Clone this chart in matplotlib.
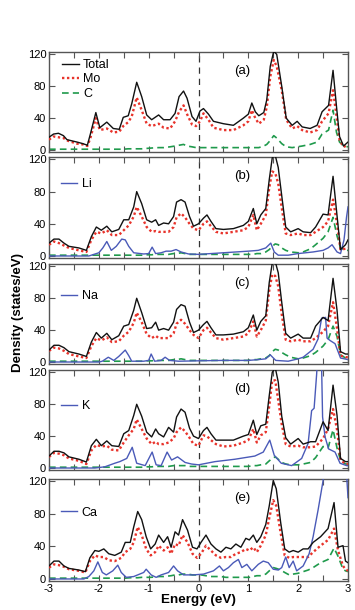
import matplotlib
matplotlib.use("Agg")
import matplotlib.pyplot as plt
from matplotlib.ticker import MultipleLocator, FixedLocator

plt.rcParams['font.family'] = ['Liberation Sans', 'DejaVu Sans']

# ---------------- data ----------------
# panel (a)
E_a = [-3.0, -2.91, -2.81, -2.71, -2.64, -2.44, -2.32, -2.23, -2.17, -2.06, -1.98, -1.84, -1.71, -1.59, -1.51,
       -1.41, -1.34, -1.24, -1.14, -1.04, -0.94, -0.80, -0.70, -0.57, -0.47, -0.39, -0.30, -0.23, -0.13, -0.05,
       0.03, 0.10, 0.20, 0.30, 0.50, 0.70, 0.90, 1.00, 1.07, 1.14, 1.21, 1.31, 1.37, 1.44, 1.51, 1.57, 1.67,
       1.76, 1.88, 1.98, 2.08, 2.24, 2.38, 2.48, 2.61, 2.70, 2.77, 2.83, 2.91, 3.0]
tot_a = [16, 20, 21, 18, 13, 10, 8, 6, 20, 47, 28, 35, 27, 26, 41, 43, 58, 85, 67, 44,
         38, 44, 38, 38, 46, 67, 74, 65, 42, 36, 49, 52, 45, 36, 33, 31, 40, 45, 59, 48,
         43, 47, 63, 105, 124, 120, 80, 40, 31, 36, 29, 27, 31, 48, 56, 100, 54, 17, 5, 10]
mo_a = [13, 17, 16, 15, 12, 8, 7, 5, 15, 40, 25, 27, 22, 23, 30, 35, 42, 66, 50, 33,
        30, 33, 28, 27, 36, 48, 56, 45, 32, 30, 36, 46, 38, 28, 25, 25, 31, 36, 50, 40,
        33, 38, 54, 92, 113, 105, 75, 38, 27, 30, 25, 22, 25, 36, 46, 75, 42, 13, 4, 6]
c_a = [1, 1, 1, 1, 1, 1, 1, 1, 1, 1, 1, 1, 1, 1, 1, 1.5, 1.5, 1.5, 1.5, 2,
       2.5, 3, 3, 4, 5, 6, 7, 5, 4, 3, 3, 3, 3, 3, 3, 3, 3, 3, 3, 3,
       3, 5, 7, 12, 18, 15, 8, 4, 3, 4, 5, 7, 10, 20, 25, 50, 22, 10, 5, 4]

# panels (b), (c), (d) share one energy grid
E_bcd = [-3.0, -2.9, -2.8, -2.7, -2.6, -2.4, -2.25, -2.15, -2.05, -1.95, -1.84, -1.74, -1.6, -1.5, -1.4,
         -1.3, -1.24, -1.14, -1.04, -0.94, -0.86, -0.8, -0.7, -0.6, -0.5, -0.44, -0.35, -0.27, -0.18, -0.1,
         0.0, 0.1, 0.17, 0.25, 0.35, 0.5, 0.7, 0.9, 1.0, 1.1, 1.17, 1.25, 1.35, 1.42, 1.48, 1.54, 1.6, 1.67,
         1.75, 1.85, 2.0, 2.1, 2.25, 2.35, 2.5, 2.6, 2.7, 2.78, 2.85, 2.95, 3.0]
tot_b = [16, 21, 21, 16, 12, 10, 7, 24, 36, 32, 37, 30, 33, 45, 45, 61, 80, 65, 45, 42,
         45, 38, 41, 40, 49, 67, 70, 67, 49, 37, 40, 47, 51, 43, 34, 33, 34, 38, 43, 59,
         40, 51, 59, 95, 122, 125, 110, 75, 36, 30, 34, 30, 29, 36, 52, 51, 99, 50, 8, 14, 20]
mo_b = [14, 18, 16, 13, 10, 7, 5, 20, 30, 28, 32, 26, 26, 32, 38, 49, 61, 49, 36, 30,
        31, 30, 30, 30, 36, 48, 53, 48, 40, 34, 32, 40, 43, 37, 30, 28, 30, 32, 36, 51,
        32, 40, 51, 85, 105, 103, 90, 60, 28, 26, 28, 26, 26, 30, 36, 43, 70, 40, 8, 9, 10]
c_b = [1, 1, 1, 1, 1, 1, 1, 1, 1, 1, 1, 1, 1, 1, 1, 1, 1, 1, 1.5, 1.5,
       2, 2, 2, 2, 3, 3, 4, 3, 2, 2, 2, 2, 2, 2, 2, 2, 2, 2, 2, 2,
       3, 3, 5, 8, 12, 15, 14, 10, 7, 5, 4, 5, 9, 14, 22, 30, 48, 25, 10, 7, 7]
E_li = [-3.0, -2.2, -2.1, -2.0, -1.92, -1.84, -1.75, -1.65, -1.54, -1.47, -1.4, -1.3, -1.1, -1.0, -0.93,
        -0.86, -0.75, -0.65, -0.55, -0.45, -0.35, -0.2, 0.0, 0.5, 1.0, 1.2, 1.35, 1.45, 1.52, 1.6, 1.8,
        2.0, 2.3, 2.5, 2.6, 2.68, 2.78, 2.85, 2.92, 2.97, 3.0]
li = [0, 0, 2, 4, 10, 18, 7, 12, 21, 20, 12, 4, 2.5, 3, 11, 3, 4, 6, 6, 8, 5, 2.5, 2, 4, 6,
      7, 10, 16, 5, 1, 1, 3, 5, 7, 10, 14, 5, 3, 20, 48, 61]

tot_c = [15, 21, 21, 18, 13, 10, 7, 25, 37, 30, 36, 28, 33, 45, 47, 65, 80, 62, 42, 43,
         50, 40, 42, 40, 50, 66, 72, 70, 50, 37, 40, 47, 51, 43, 34, 34, 35, 38, 43, 59,
         40, 51, 58, 100, 124, 126, 112, 75, 36, 30, 35, 30, 30, 45, 56, 52, 105, 65, 13, 10, 10]
mo_c = [14, 18, 17, 14, 10, 7, 5, 20, 30, 27, 31, 25, 26, 33, 38, 49, 62, 50, 35, 30,
        33, 30, 30, 30, 36, 48, 53, 48, 40, 34, 30, 40, 43, 37, 30, 28, 30, 32, 36, 51,
        32, 40, 52, 90, 110, 108, 95, 60, 28, 26, 28, 26, 26, 30, 38, 45, 75, 42, 8, 6, 6]
c_c = [1, 1, 1, 1, 1, 1, 1, 1, 1, 1, 1, 1, 1, 1, 1, 1, 1, 1, 1.5, 1.5,
       2, 2, 2, 2, 3, 3, 4, 3, 2, 2, 2, 2, 2, 2, 2, 2, 2, 2, 2, 3,
       3, 4, 5, 8, 13, 16, 15, 12, 9, 6, 4, 5, 8, 12, 20, 28, 45, 32, 9, 5, 4]
E_na = [-3.0, -2.0, -1.93, -1.81, -1.7, -1.6, -1.47, -1.4, -1.34, -1.1, -1.0, -0.95, -0.88, -0.75, -0.67,
        -0.58, -0.4, 0.0, 0.5, 1.0, 1.2, 1.35, 1.44, 1.55, 1.8, 2.0, 2.1, 2.3, 2.4, 2.47, 2.55, 2.58,
        2.64, 2.74, 2.85, 3.0]
na = [0, 0, 1, 6, 2, 7, 15, 8, 1, 1, 2, 10, 1, 2, 6, 2, 1, 1.5, 2, 2, 3, 4, 9, 2, 1,
      4, 6, 16, 29, 55, 56, 30, 27, 23, 5, 3]

tot_d = [15, 21, 21, 19, 14, 11, 7.5, 28, 36, 28, 34, 28, 27, 43, 47, 66, 80, 65, 45, 39,
         49, 43, 39, 51, 45, 64, 74, 70, 50, 40, 37, 47, 51, 43, 35, 35, 35, 40, 42, 60,
         42, 53, 55, 91, 120, 126, 108, 65, 38, 30, 37, 30, 33, 33, 58, 47, 104, 66, 12, 8, 8]
mo_d = [14, 19, 18, 16, 12, 9, 5, 22, 29, 27, 28, 23, 22, 32, 41, 49, 61, 49, 37, 30,
        33, 30, 30, 32, 37, 45, 51, 46, 38, 30, 28, 41, 40, 35, 30, 27, 28, 32, 35, 49,
        32, 41, 45, 78, 110, 110, 85, 55, 30, 27, 28, 26, 26, 27, 37, 49, 74, 48, 10, 5, 5]
c_d = [1, 1, 1, 1, 1, 1, 1, 1, 1, 1, 1, 1, 1, 1, 1, 1, 1, 1, 1.5, 1.5,
       2, 2, 2, 2, 3, 3, 3, 3, 2, 2, 2, 2, 2, 2, 2, 2, 2, 2, 2, 3,
       3, 4, 5, 9, 12, 14, 11, 7, 5, 4, 4, 5, 7, 13, 27, 25, 48, 25, 10, 5, 5]
E_k = [-3.0, -2.08, -1.88, -1.68, -1.58, -1.44, -1.33, -1.24, -1.07, -0.93, -0.85, -0.75, -0.63, -0.54,
       -0.42, -0.27, -0.14, 0.0, 0.33, 0.73, 1.13, 1.30, 1.43, 1.52, 1.66, 1.87, 2.07, 2.20, 2.27, 2.32,
       2.37, 2.41, 2.46, 2.49, 2.54, 2.61, 2.74, 2.84, 2.97, 3.0]
k = [0, 0, 1.5, 6, 8, 12, 26, 6, 3, 20, 4, 3, 20, 10, 14, 7, 5, 4, 8, 11,
     15, 20, 35, 16, 6, 3, 12, 31, 72, 75, 117, 160, 160, 64, 39, 24, 20, 6, 3, 3]

# panel (e)
E_e = [-3.0, -2.9, -2.8, -2.7, -2.6, -2.4, -2.27, -2.18, -2.08, -2.0, -1.9, -1.8, -1.68, -1.55, -1.47,
       -1.37, -1.3, -1.22, -1.14, -1.05, -0.96, -0.87, -0.8, -0.7, -0.62, -0.55, -0.47, -0.4, -0.32, -0.22,
       -0.12, -0.03, 0.05, 0.15, 0.25, 0.35, 0.45, 0.55, 0.65, 0.75, 0.85, 0.95, 1.02, 1.1, 1.17, 1.25,
       1.35, 1.42, 1.5, 1.56, 1.65, 1.73, 1.82, 1.9, 2.0, 2.1, 2.2, 2.3, 2.45, 2.6, 2.72, 2.8, 2.9, 2.95, 3.0]
tot_e = [16, 22, 22, 16, 13, 11, 9, 26, 35, 34, 37, 31, 29, 33, 45, 45, 64, 83, 73, 52,
         37, 43, 54, 45, 52, 39, 58, 54, 73, 60, 39, 37, 45, 54, 43, 37, 33, 39, 37, 43,
         39, 50, 48, 54, 45, 52, 67, 90, 121, 111, 69, 37, 33, 35, 33, 37, 37, 45, 52, 62,
         94, 39, 41, 22, 20]
mo_e = [14, 18, 17, 15, 12, 10, 8, 22, 29, 27, 27, 23, 22, 26, 33, 37, 45, 64, 54, 37,
        29, 33, 41, 35, 39, 31, 43, 41, 54, 45, 31, 26, 31, 41, 35, 29, 26, 27, 27, 31,
        33, 37, 35, 39, 33, 41, 54, 75, 97, 90, 56, 29, 26, 27, 27, 27, 27, 33, 41, 48,
        62, 35, 16, 12, 10]
c_e = [1, 1, 1, 1, 1, 1, 1, 1, 1, 1, 1, 1, 1, 1, 1, 1.5, 1.5, 1.5, 2, 2,
       2, 2.5, 3, 3, 3.5, 4, 5, 5, 6, 6, 5, 5, 5, 4, 3, 3, 3, 2, 2, 2,
       2, 2, 2, 3, 4, 4, 6, 10, 14, 13, 11, 8, 5, 6, 7, 9, 11, 14, 20, 24,
       38, 28, 12, 10, 9]
E_ca = [-3.0, -2.3, -2.2, -2.1, -2.02, -1.93, -1.85, -1.72, -1.62, -1.55, -1.45, -1.3, -1.1, -1.05, -0.95,
        -0.85, -0.75, -0.6, -0.5, -0.42, -0.3, -0.1, 0.1, 0.3, 0.42, 0.5, 0.6, 0.7, 0.8, 0.87, 0.97, 1.07,
        1.2, 1.3, 1.4, 1.5, 1.6, 1.67, 1.75, 1.82, 1.9, 1.97, 2.1, 2.22, 2.3, 2.4, 2.5, 2.56, 2.9, 2.97, 3.0]
ca = [0, 0, 3, 10, 21, 8, 5, 10, 17, 8, 2, 3, 8, 12, 5, 2, 5, 8, 16, 10, 5, 5, 6, 10, 16,
      10, 14, 20, 24, 14, 18, 10, 18, 22, 20, 12, 11, 14, 27, 14, 22, 10, 16, 31, 52, 85, 121,
      200, 200, 130, 100]

panel_labels = ['(a)', '(b)', '(c)', '(d)', '(e)']
x_ticks = [-3, -2, -1, 0, 1, 2, 3]
y_ticks = [0, 40, 80, 120]

# ---------------- styling ----------------
C_TOT = '#111111'
C_MO = '#e8332b'
C_C = '#1f9a4c'
C_M = '#4a5ab8'
FRAME = '#555555'

W, H = 355, 610
fig = plt.figure(figsize=(W / 100, H / 100), dpi=100)

# panel frames in pixels: (top, bottom)
frames = [(52, 152), (157, 258), (264, 364), (370, 470), (479, 581)]
left_px, right_px = 49, 348

panels = [
    (E_a, tot_a, mo_a, c_a, None, None, None),
    (E_bcd, tot_b, mo_b, c_b, E_li, li, 'Li'),
    (E_bcd, tot_c, mo_c, c_c, E_na, na, 'Na'),
    (E_bcd, tot_d, mo_d, c_d, E_k, k, 'K'),
    (E_e, tot_e, mo_e, c_e, E_ca, ca, 'Ca'),
]
leg_y = [None, 0.73, 0.68, 0.64, 0.67]

for i, ((top, bot), pdata) in enumerate(zip(frames, panels)):
    Ex, tot, mo, cc, Em, mv, mname = pdata
    ax = fig.add_axes([left_px / W, 1 - bot / H, (right_px - left_px) / W, (bot - top) / H])
    ax.axvline(0, color='#333333', lw=0.9, ls=(0, (5, 4)), zorder=1)
    h_tot, = ax.plot(Ex, tot, color=C_TOT, lw=1.0, zorder=4, label='Total')
    h_mo, = ax.plot(Ex, mo, color=C_MO, lw=1.7, ls=(0, (1, 1.1)), zorder=3, label='Mo')
    h_c, = ax.plot(Ex, cc, color=C_C, lw=1.2, ls=(0, (4, 2.5)), zorder=2, label='C')
    if mv is not None:
        h_m, = ax.plot(Em, mv, color=C_M, lw=1.0, zorder=3, label=mname)
    ax.set_xlim(-3, 3)
    ax.set_ylim(-2.5, 123)
    ax.xaxis.set_major_locator(FixedLocator(x_ticks))
    ax.xaxis.set_minor_locator(MultipleLocator(0.5))
    ax.yaxis.set_major_locator(FixedLocator(y_ticks))
    ax.tick_params(which='both', direction='in', top=True, right=True, length=4, width=0.8,
                   color=FRAME, labelsize=8, pad=2)
    for s in ax.spines.values():
        s.set_color(FRAME)
        s.set_linewidth(1.0)
    if i < 4:
        ax.tick_params(labelbottom=False)
    else:
        ax.set_xticklabels([str(t) if t >= 0 else '-' + str(-t) for t in x_ticks])
        ax.set_xlabel('Energy (eV)', fontsize=9.7, fontweight='bold', labelpad=0)
    ax.text(0.645, 0.81, panel_labels[i], transform=ax.transAxes, ha='center', va='center', fontsize=9.5)
    if i == 0:
        ax.legend(handles=[h_tot, h_mo, h_c], loc='upper left', bbox_to_anchor=(0.045, 0.93),
                  frameon=False, fontsize=9, handlelength=1.35, handletextpad=0.3, labelspacing=0.2,
                  borderpad=0, borderaxespad=0)
    else:
        ax.legend(handles=[h_m], loc='center left', bbox_to_anchor=(0.04, leg_y[i]),
                  frameon=False, fontsize=9, handlelength=1.3, handletextpad=0.35,
                  borderpad=0, borderaxespad=0)

fig.text(18 / W, 1 - 312 / H, 'Density (states/eV)', rotation=90, ha='center', va='center',
         fontsize=9.6, fontweight='bold')

fig.savefig('out.png', dpi=100)
